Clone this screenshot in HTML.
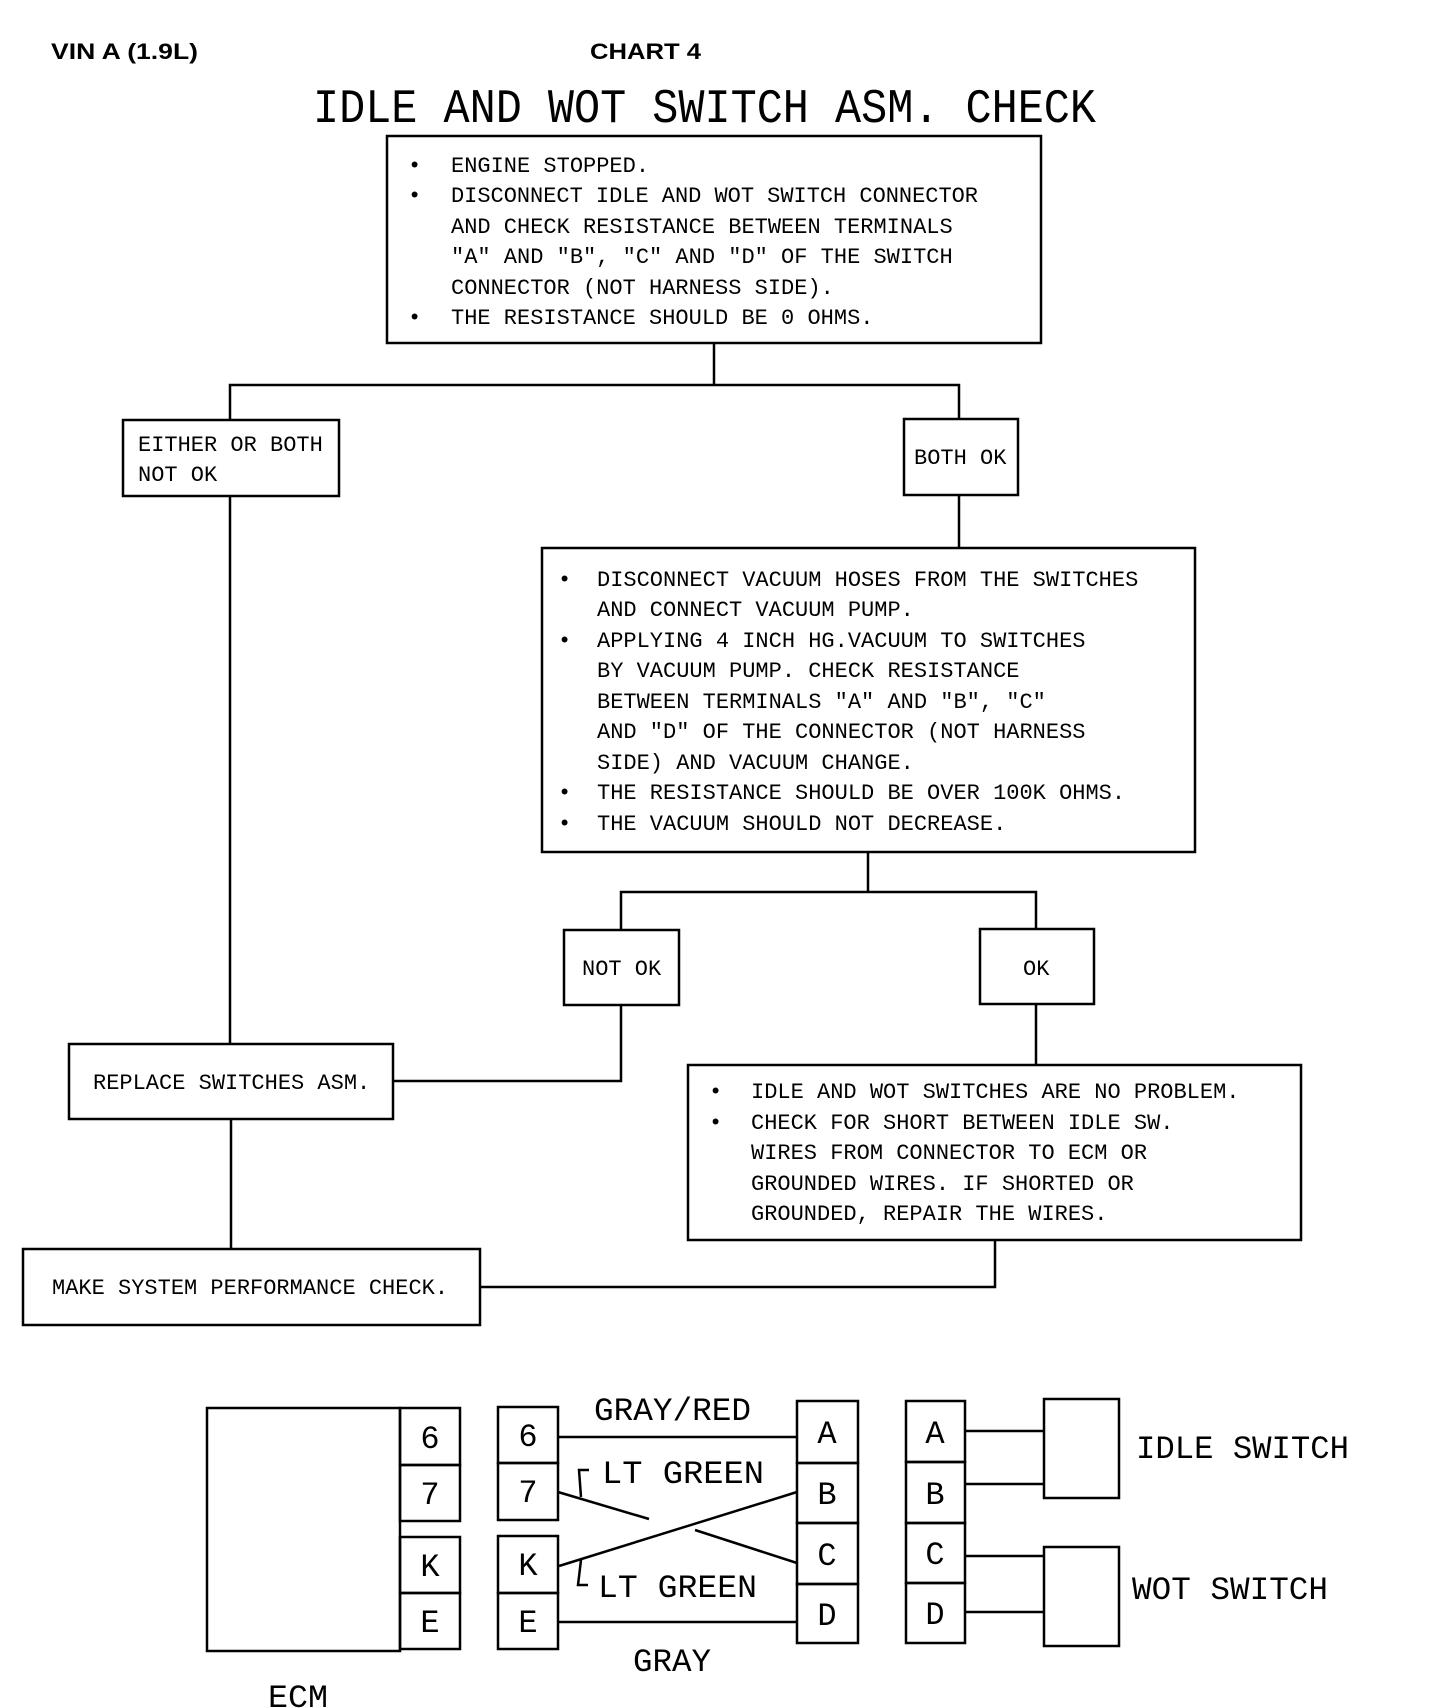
<!DOCTYPE html>
<html><head><meta charset="utf-8"><style>
html,body{margin:0;padding:0;background:#fff;}
svg{display:block;}
text{font-family:"Liberation Mono",monospace;fill:#000;}
.b{font-family:"Liberation Sans",sans-serif;font-weight:bold;}
.t{font-size:22px;}
.p{font-size:32px;}
</style></head><body>
<svg width="1440" height="1708" viewBox="0 0 1440 1708" xmlns="http://www.w3.org/2000/svg">
<g stroke="#000" stroke-width="2.5" fill="none">
<rect x="387" y="136" width="654" height="207"/>
<polyline points="714,343 714,385"/>
<polyline points="230,420 230,385 959,385 959,419"/>
<rect x="123" y="420" width="216" height="76"/>
<rect x="904" y="419" width="114" height="76"/>
<line x1="959" y1="495" x2="959" y2="548"/>
<rect x="542" y="548" width="653" height="304"/>
<polyline points="868,852 868,892"/>
<polyline points="621,930 621,892 1036,892 1036,929"/>
<rect x="564" y="930" width="115" height="75"/>
<rect x="980" y="929" width="114" height="75"/>
<line x1="230" y1="496" x2="230" y2="1044"/>
<rect x="69" y="1044" width="324" height="75"/>
<polyline points="621,1005 621,1081 393,1081"/>
<line x1="1036" y1="1004" x2="1036" y2="1065"/>
<rect x="688" y="1065" width="613" height="175"/>
<line x1="231" y1="1119" x2="231" y2="1249"/>
<rect x="23" y="1249" width="457" height="76"/>
<polyline points="995,1240 995,1287 480,1287"/>

<rect x="207" y="1408" width="193" height="243"/>
<rect x="400" y="1408" width="60" height="57"/>
<rect x="400" y="1465" width="60" height="56"/>
<rect x="400" y="1537" width="60" height="56"/>
<rect x="400" y="1593" width="60" height="56"/>
<rect x="498" y="1407" width="60" height="56"/>
<rect x="498" y="1463" width="60" height="57"/>
<rect x="498" y="1536" width="60" height="57"/>
<rect x="498" y="1593" width="60" height="56"/>
<rect x="797" y="1401" width="61" height="62"/>
<rect x="797" y="1463" width="61" height="60"/>
<rect x="797" y="1523" width="61" height="61"/>
<rect x="797" y="1584" width="61" height="59"/>
<rect x="906" y="1401" width="59" height="61"/>
<rect x="906" y="1462" width="59" height="61"/>
<rect x="906" y="1523" width="59" height="60"/>
<rect x="906" y="1583" width="59" height="60"/>
<rect x="1044" y="1399" width="75" height="99"/>
<rect x="1044" y="1547" width="75" height="99"/>
<line x1="965" y1="1431" x2="1044" y2="1431"/>
<line x1="965" y1="1484" x2="1044" y2="1484"/>
<line x1="965" y1="1556" x2="1044" y2="1556"/>
<line x1="965" y1="1612" x2="1044" y2="1612"/>
<line x1="558" y1="1437" x2="797" y2="1437"/>
<line x1="558" y1="1622" x2="797" y2="1622"/>
<line x1="558" y1="1492" x2="649" y2="1519"/>
<line x1="695" y1="1530" x2="797" y2="1563"/>
<line x1="797" y1="1492" x2="559" y2="1566"/>
<polyline points="589,1470 579,1470 581,1497"/>
<polyline points="581,1560 578,1585 588,1585"/>
</g>

<text class="b" x="51" y="59" font-size="22" textLength="147" lengthAdjust="spacingAndGlyphs">VIN A (1.9L)</text>
<text class="b" x="590" y="59" font-size="22" textLength="111" lengthAdjust="spacingAndGlyphs">CHART 4</text>
<text x="313" y="122" font-size="48" textLength="783" lengthAdjust="spacingAndGlyphs">IDLE AND WOT SWITCH ASM. CHECK</text>

<g class="t">
<text x="408" y="172">•</text><text x="451" y="172">ENGINE STOPPED.</text>
<text x="408" y="202">•</text><text x="451" y="202" textLength="527">DISCONNECT IDLE AND WOT SWITCH CONNECTOR</text>
<text x="451" y="233">AND CHECK RESISTANCE BETWEEN TERMINALS</text>
<text x="451" y="263">"A" AND "B", "C" AND "D" OF THE SWITCH</text>
<text x="451" y="294">CONNECTOR (NOT HARNESS SIDE).</text>
<text x="408" y="324">•</text><text x="451" y="324">THE RESISTANCE SHOULD BE 0 OHMS.</text>

<text x="138" y="451">EITHER OR BOTH</text>
<text x="138" y="481">NOT OK</text>
<text x="914" y="464">BOTH OK</text>

<text x="558" y="586">•</text><text x="597" y="586">DISCONNECT VACUUM HOSES FROM THE SWITCHES</text>
<text x="597" y="616">AND CONNECT VACUUM PUMP.</text>
<text x="558" y="647">•</text><text x="597" y="647">APPLYING 4 INCH HG.VACUUM TO SWITCHES</text>
<text x="597" y="677">BY VACUUM PUMP. CHECK RESISTANCE</text>
<text x="597" y="708">BETWEEN TERMINALS "A" AND "B", "C"</text>
<text x="597" y="738">AND "D" OF THE CONNECTOR (NOT HARNESS</text>
<text x="597" y="769">SIDE) AND VACUUM CHANGE.</text>
<text x="558" y="799">•</text><text x="597" y="799">THE RESISTANCE SHOULD BE OVER 100K OHMS.</text>
<text x="558" y="830">•</text><text x="597" y="830">THE VACUUM SHOULD NOT DECREASE.</text>

<text x="582" y="975">NOT OK</text>
<text x="1023" y="975">OK</text>
<text x="93" y="1089">REPLACE SWITCHES ASM.</text>

<text x="709" y="1098">•</text><text x="751" y="1098">IDLE AND WOT SWITCHES ARE NO PROBLEM.</text>
<text x="709" y="1129">•</text><text x="751" y="1129">CHECK FOR SHORT BETWEEN IDLE SW.</text>
<text x="751" y="1159">WIRES FROM CONNECTOR TO ECM OR</text>
<text x="751" y="1190">GROUNDED WIRES.  IF SHORTED OR</text>
<text x="751" y="1220">GROUNDED, REPAIR THE WIRES.</text>
<text x="52" y="1294">MAKE SYSTEM PERFORMANCE CHECK.</text>
</g>

<g class="p" text-anchor="middle">
<text x="430" y="1448">6</text><text x="430" y="1504">7</text>
<text x="430" y="1576">K</text><text x="430" y="1632">E</text>
<text x="528" y="1446">6</text><text x="528" y="1502">7</text>
<text x="528" y="1575">K</text><text x="528" y="1632">E</text>
<text x="827" y="1443">A</text><text x="827" y="1504">B</text>
<text x="827" y="1565">C</text><text x="827" y="1625">D</text>
<text x="935" y="1443">A</text><text x="935" y="1504">B</text>
<text x="935" y="1564">C</text><text x="935" y="1624">D</text>
</g>
<g class="p">
<text x="594" y="1420" textLength="157" lengthAdjust="spacingAndGlyphs">GRAY/RED</text>
<text x="602" y="1483" textLength="162" lengthAdjust="spacingAndGlyphs">LT GREEN</text>
<text x="598" y="1597" textLength="159" lengthAdjust="spacingAndGlyphs">LT GREEN</text>
<text x="633" y="1671" textLength="78" lengthAdjust="spacingAndGlyphs">GRAY</text>
<text x="268" y="1707" textLength="60" lengthAdjust="spacingAndGlyphs">ECM</text>
<text x="1136" y="1458" textLength="213" lengthAdjust="spacingAndGlyphs">IDLE SWITCH</text>
<text x="1132" y="1599" textLength="196" lengthAdjust="spacingAndGlyphs">WOT SWITCH</text>
</g>
</svg>
</body></html>
